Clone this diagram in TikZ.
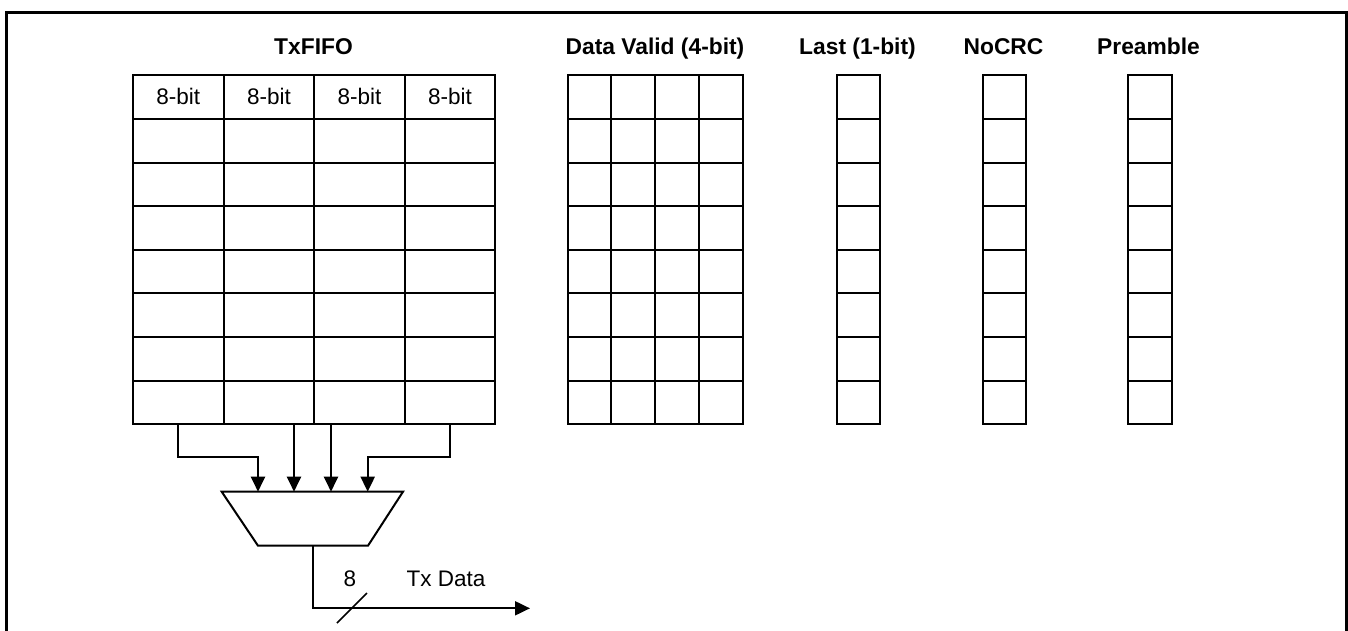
\documentclass[tikz,border=0pt]{standalone}
\usepackage{fontspec}
\setmainfont{Liberation Sans}
\usetikzlibrary{arrows.meta,calc}
\begin{document}
\begin{tikzpicture}[x=1pt,y=-1pt,
  cell/.style={draw,line width=2pt,inner sep=0pt,anchor=north west},
  arr/.style={line width=2pt,-{Triangle[length=15pt,width=14pt]}},
  ttl/.style={font=\fontsize{22.8}{26}\selectfont\bfseries,anchor=base,inner sep=0pt},
  lbl/.style={font=\fontsize{22.5}{26}\selectfont,anchor=base,inner sep=0pt},
  frame/.style={line width=3pt}]
\useasboundingbox (0,0) rectangle (1348,630);
% frame
\draw[frame] (6,632) -- (6,12.5) -- (1346.5,12.5) -- (1346.5,632);
% titles
\node[ttl] (t-fifo) at (313.5,54) {TxFIFO};
\node[ttl] (t-dv) at (655,54) {Data Valid (4-bit)};
\node[ttl] (t-last) at (857.5,54) {Last (1-bit)};
\node[ttl] (t-nocrc) at (1003.5,54) {NoCRC};
\node[ttl] (t-pre) at (1148.5,54) {Preamble};
% TxFIFO grid
\foreach \r in {1,...,8}{
  \foreach \c in {1,...,4}{
    \node[cell,minimum width=90.6pt,minimum height=43.6pt]
      (f-\r-\c) at ({132+(\c-1)*90.6},{74.3+(\r-1)*43.6}) {};
  }
}
\foreach \c in {1,...,4}{ \node[lbl] (fl-\c) at ($(f-1-\c.center)+(0,7.5)$) {8-bit}; }
% Data valid grid
\foreach \r in {1,...,8}{
  \foreach \c in {1,...,4}{
    \node[cell,minimum width=43.75pt,minimum height=43.6pt]
      (d-\r-\c) at ({566.7+(\c-1)*43.75},{74.3+(\r-1)*43.6}) {};
  }
}
% single columns
\foreach \nm/\x in {l/835.7,n/981.8,p/1127}{
  \foreach \r in {1,...,8}{
    \node[cell,minimum width=43.5pt,minimum height=43.6pt]
      (\nm-\r) at (\x,{74.3+(\r-1)*43.6}) {};
  }
}
% mux
\coordinate (mtl) at (221.7,491.7);
\coordinate (mtr) at (403,491.7);
\coordinate (mbr) at (368,545.7);
\coordinate (mbl) at (258,545.7);
\draw[line width=2pt,line join=miter] (mtl) -- (mtr) -- (mbr) -- (mbl) -- cycle;
\coordinate (m1) at (258,491.7);
\coordinate (m2) at (294,491.7);
\coordinate (m3) at (331,491.7);
\coordinate (m4) at (367.7,491.7);
\coordinate (mo) at (313,545.7);
% inputs
\draw[arr] (f-8-1.south) -- ++(0,32) -| (m1);
\draw[arr] (f-8-2.south -| m2) -- (m2);
\draw[arr] (f-8-3.south -| m3) -- (m3);
\draw[arr] (f-8-4.south) -- ++(0,32) -| (m4);
% output
\coordinate (txout) at (530,608.3);
\draw[arr] (mo) |- (txout);
\coordinate (s1) at (337,623);
\coordinate (s2) at (367,593);
\draw[line width=1.5pt] (s1) -- (s2);
\node[lbl] (w8) at (350,586.7) {8};
\node[lbl] (txd) at (446,586.7) {Tx Data};
\end{tikzpicture}
\end{document}
